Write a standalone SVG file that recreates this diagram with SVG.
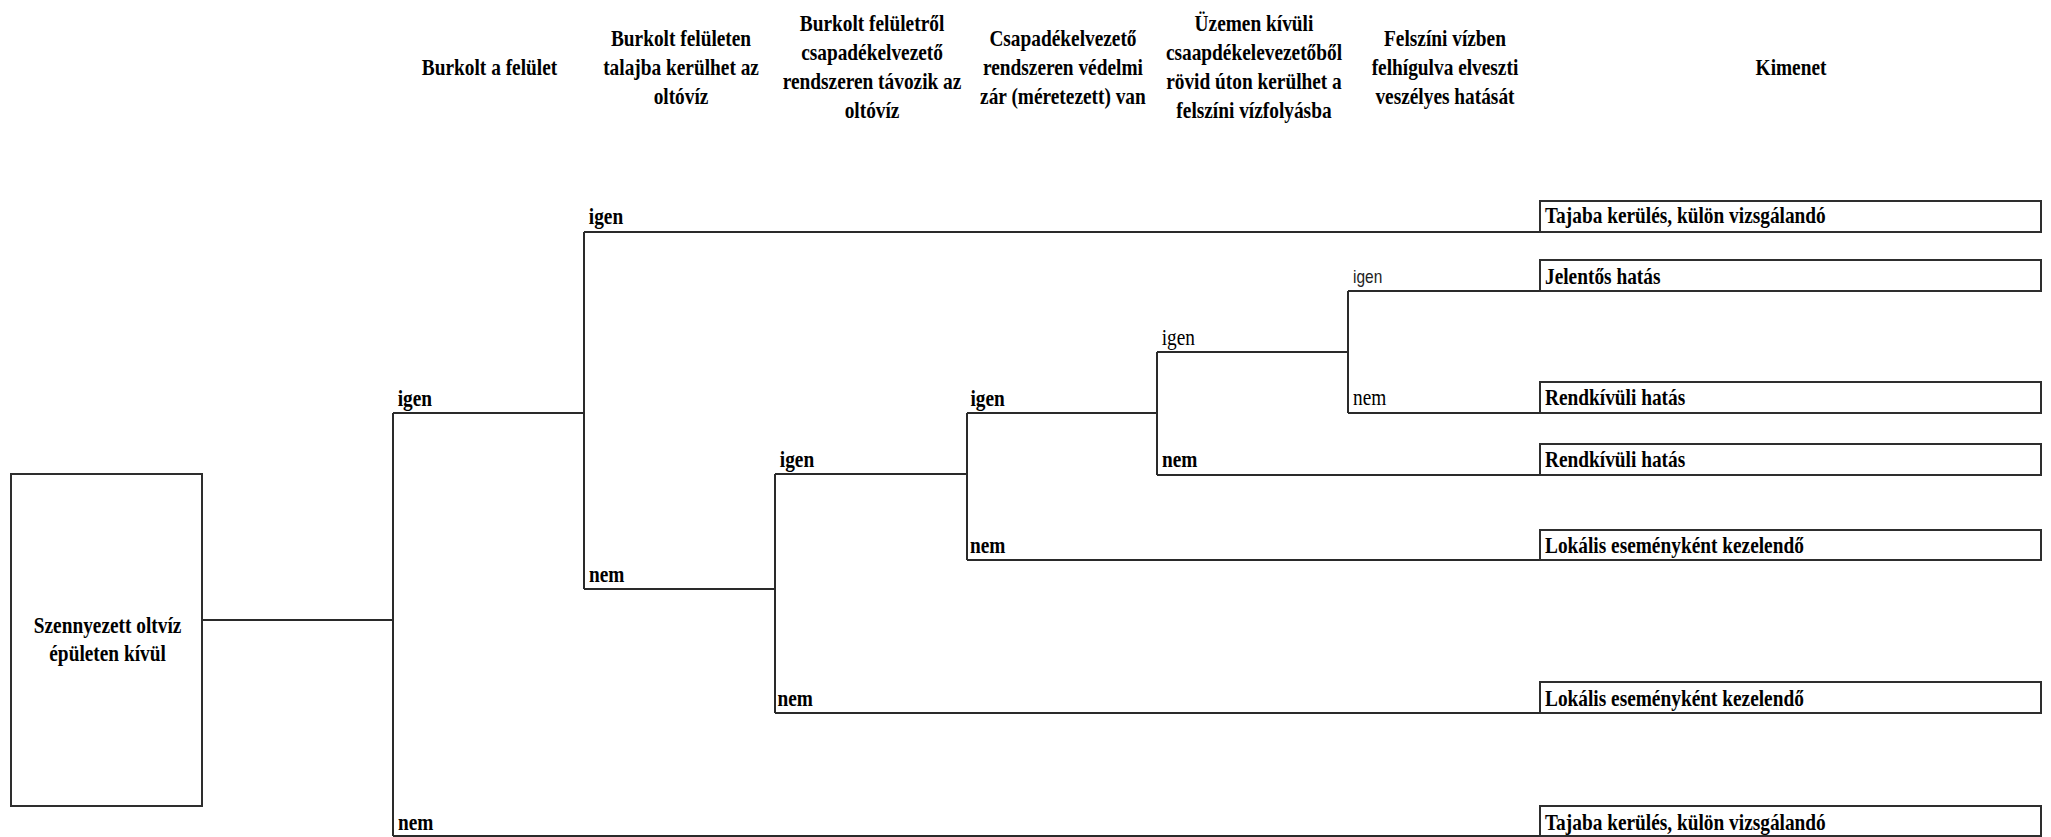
<svg xmlns="http://www.w3.org/2000/svg" width="2051" height="837" viewBox="0 0 2051 837">
  <style>
    text { font-family: "Liberation Serif", "Times New Roman", serif; font-size: 22.5px; fill: #000; transform: scale(0.86, 1); }
    .b { font-weight: bold; }
    .hd { font-weight: bold; text-anchor: middle; }
    .reg { font-weight: normal; }
    .sans { font-family: "Liberation Sans", Arial, sans-serif; font-size: 18px; font-weight: normal; fill: #222; }
    .box { fill: #fff; stroke: #2e2e2e; stroke-width: 2; }
    .wire { fill: none; stroke: #2a2a2a; stroke-width: 2; }
  </style>

  <rect width="2051" height="837" fill="#fff"/>

  <!-- column headings -->
  <g id="headers">
    <text class="hd" x="569.2" y="75">Burkolt a felület</text>
    <text class="hd" y="46"><tspan x="791.9">Burkolt felületen</tspan><tspan x="791.9" dy="29">talajba kerülhet az</tspan><tspan x="791.9" dy="29">oltóvíz</tspan></text>
    <text class="hd" y="31.5"><tspan x="1014">Burkolt felületről</tspan><tspan x="1014" dy="29">csapadékelvezető</tspan><tspan x="1014" dy="29">rendszeren távozik az</tspan><tspan x="1014" dy="29">oltóvíz</tspan></text>
    <text class="hd" y="46"><tspan x="1236">Csapadékelvezető</tspan><tspan x="1236" dy="29">rendszeren védelmi</tspan><tspan x="1236" dy="29">zár (méretezett) van</tspan></text>
    <text class="hd" y="31.5"><tspan x="1458.1">Üzemen kívüli</tspan><tspan x="1458.1" dy="29">csaapdékelevezetőből</tspan><tspan x="1458.1" dy="29">rövid úton kerülhet a</tspan><tspan x="1458.1" dy="29">felszíni vízfolyásba</tspan></text>
    <text class="hd" y="46"><tspan x="1680.2">Felszíni vízben</tspan><tspan x="1680.2" dy="29">felhígulva elveszti</tspan><tspan x="1680.2" dy="29">veszélyes hatását</tspan></text>
    <text class="hd" x="2082.6" y="75">Kimenet</text>
  </g>

  <!-- branch lines with their igen / nem labels -->
  <g id="connectors">
    <path class="wire" d="M202 620H393 M393 413V836 M393 413H584 M393 836H1540"/>
    <path class="wire" d="M584 232V589 M584 232H1540 M584 589H775"/>
    <path class="wire" d="M775 474V713 M775 474H967 M775 713H1540"/>
    <path class="wire" d="M967 413V560 M967 413H1157 M967 560H1540"/>
    <path class="wire" d="M1157 352V475 M1157 352H1348 M1157 475H1540"/>
    <path class="wire" d="M1348 291V413 M1348 291H1540 M1348 413H1540"/>

    <text class="b" x="462.4" y="406.5">igen</text>
    <text class="b" x="462.8" y="830">nem</text>
    <text class="b" x="684.7" y="224">igen</text>
    <text class="b" x="684.9" y="582">nem</text>
    <text class="b" x="906.7" y="467">igen</text>
    <text class="b" x="904.1" y="706.5">nem</text>
    <text class="b" x="1128.4" y="406.5">igen</text>
    <text class="b" x="1127.9" y="553">nem</text>
    <text class="reg" x="1350.8" y="345">igen</text>
    <text class="b" x="1351.2" y="467">nem</text>
    <text class="sans" x="1573.3" y="283.5">igen</text>
    <text class="reg" x="1573.3" y="405.5">nem</text>
  </g>

  <!-- starting situation -->
  <g id="start">
    <rect class="box" x="11" y="474" width="191" height="332"/>
    <text class="hd" y="633.5"><tspan x="125.1">Szennyezett oltvíz</tspan><tspan x="125.1" dy="28">épületen kívül</tspan></text>
  </g>

  <!-- outcomes -->
  <g id="out-1">
    <rect class="box" x="1540" y="201" width="501" height="31"/>
    <text class="b" x="1796.5" y="223.5">Tajaba kerülés, külön vizsgálandó</text>
  </g>
  <g id="out-2">
    <rect class="box" x="1540" y="260" width="501" height="31"/>
    <text class="b" x="1796.5" y="284">Jelentős hatás</text>
  </g>
  <g id="out-3">
    <rect class="box" x="1540" y="382" width="501" height="31"/>
    <text class="b" x="1796.5" y="405.5">Rendkívüli hatás</text>
  </g>
  <g id="out-4">
    <rect class="box" x="1540" y="444" width="501" height="31"/>
    <text class="b" x="1796.5" y="467">Rendkívüli hatás</text>
  </g>
  <g id="out-5">
    <rect class="box" x="1540" y="530" width="501" height="30"/>
    <text class="b" x="1796.5" y="553">Lokális eseményként kezelendő</text>
  </g>
  <g id="out-6">
    <rect class="box" x="1540" y="682" width="501" height="31"/>
    <text class="b" x="1796.5" y="706">Lokális eseményként kezelendő</text>
  </g>
  <g id="out-7">
    <rect class="box" x="1540" y="806" width="501" height="30"/>
    <text class="b" x="1796.5" y="830">Tajaba kerülés, külön vizsgálandó</text>
  </g>
</svg>
